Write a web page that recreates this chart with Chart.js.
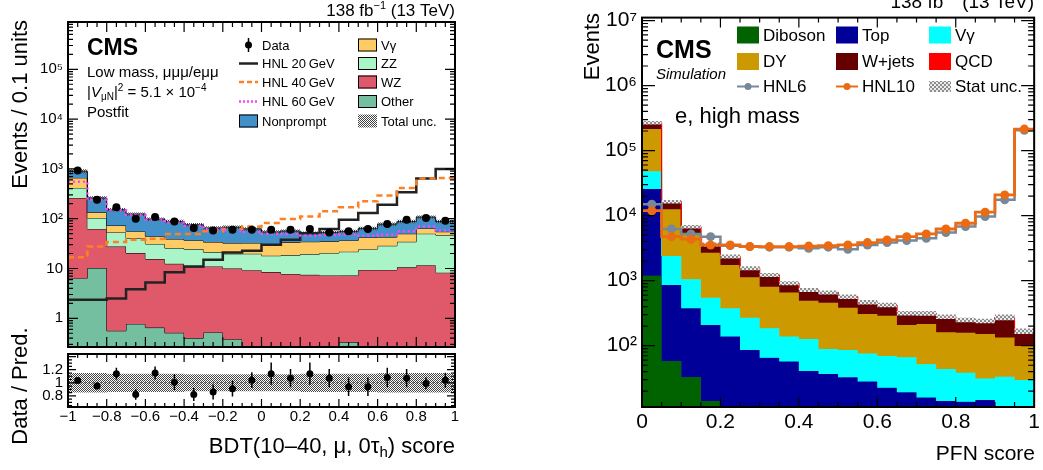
<!DOCTYPE html>
<html>
<head>
<meta charset="utf-8">
<script src="https://cdn.jsdelivr.net/npm/chart.js@4.4.0/dist/chart.umd.min.js"></script>
<style>
html, body { margin: 0; padding: 0; background: #fff; }
#wrap { position: relative; width: 1043px; height: 470px; }
#wrap canvas { position: absolute; left: 0; top: 0; }
</style>
</head>
<body>
<div id="wrap">
  <canvas id="cMain" width="1043" height="470"></canvas>
  <canvas id="cRatio" width="1043" height="470"></canvas>
  <canvas id="cPfn" width="1043" height="470"></canvas>
</div>
<script>
// ---- left: BDT(10-40, mu, 0tau_h) score, low mass, postfit ----
const bdtEdges = [-1, -0.9, -0.8, -0.7, -0.6, -0.5, -0.4, -0.3, -0.2, -0.1, 0, 0.1, 0.2, 0.3, 0.4, 0.5, 0.6, 0.7, 0.8, 0.9, 1];
const bdtOther     = [6.4, 10.2, 0.56, 0.77, 0.65, 0.51, 0.4, 0.52, 0.38, 0.15, 0.15, 0.15, 0.15, 0.15, 0.33, 0.15, 0.15, 0.15, 0.15, 0.15];
const bdtWZ        = [254, 52, 27, 19.6, 14.8, 11.9, 10.2, 10.5, 9.6, 9.1, 8.3, 7.6, 7.3, 7.1, 6.9, 9.2, 9.2, 10.4, 11.5, 8.1];
const bdtZZ        = [154, 41, 25.3, 20.4, 15.6, 13.3, 13.9, 10.3, 9.7, 10.5, 9.6, 10.8, 12, 13.2, 14.5, 15.1, 19.2, 23.8, 38.3, 38.6];
const bdtVgamma    = [245, 31, 20, 14.8, 13, 13.3, 12.1, 12.6, 12.7, 12.7, 13, 14.9, 15, 14.6, 14.9, 17.5, 14.1, 15.5, 13.8, 7.8];
const bdtNonprompt = [239, 126, 79, 68, 54, 49, 39, 31, 35, 30, 23, 23, 17, 18, 19, 22, 35, 38, 44, 33];
const bdtTotUnc    = [0.1, 0.09, 0.08, 0.08, 0.08, 0.08, 0.08, 0.08, 0.08, 0.08, 0.08, 0.08, 0.08, 0.08, 0.08, 0.08, 0.08, 0.08, 0.08, 0.08];
const bdtData      = [925, 241, 169, 100, 108, 88, 65, 58, 60, 60, 60, 60, 62, 53, 56, 62, 78, 95, 103, 91];
const bdtDataErr   = [30, 16, 13, 10, 10, 9, 8, 8, 8, 8, 8, 8, 8, 7, 7.5, 8, 9, 10, 10, 9.5];
const bdtHNL20     = [2.35, 2.35, 2.5, 3.84, 5.2, 8.4, 11, 14.9, 21, 22.7, 30, 37.8, 51, 62, 95.5, 130, 191, 339, 638, 1000];
const bdtHNL40     = [16.9, 27.7, 33.9, 37.8, 39.5, 49.2, 49.2, 55.6, 62, 70, 82, 98.5, 111, 141, 170, 223, 291, 414, 638, 659];
const bdtHNL60     = [550, 240, 148, 118, 96, 84, 72, 62, 58, 54, 50, 49, 46, 47, 48, 45.5, 47.6, 56, 70, 58];
const ratioVals    = [1.036, 0.95, 1.14, 0.82, 1.15, 1.01, 0.82, 0.86, 0.91, 1.04, 1.14, 1.07, 1.14, 1.07, 0.94, 0.94, 1.08, 1.07, 0.99, 1.04];
const ratioErr     = [0.04, 0.05, 0.09, 0.08, 0.1, 0.12, 0.1, 0.115, 0.12, 0.12, 0.17, 0.14, 0.17, 0.14, 0.14, 0.14, 0.15, 0.14, 0.09, 0.115];
const ratioBand    = [0.15, 0.15, 0.14, 0.14, 0.14, 0.14, 0.13, 0.13, 0.13, 0.13, 0.13, 0.13, 0.14, 0.14, 0.14, 0.14, 0.15, 0.15, 0.15, 0.15];
const bdtXTicks = [-1, -0.8, -0.6, -0.4, -0.2, 0, 0.2, 0.4, 0.6, 0.8, 1];
const bdtYTicks = [1, 10, 100, 1000, 1e4, 1e5];
const ratioYTicks = [0.8, 1, 1.2];

// ---- right: PFN score, e, high mass (simulation) ----
const pfnEdges = [0, 0.05, 0.1, 0.15, 0.2, 0.25, 0.3, 0.35, 0.4, 0.45, 0.5, 0.55, 0.6, 0.65, 0.7, 0.75, 0.8, 0.85, 0.9, 0.95, 1];
const pfnDiboson = [1194, 58, 33, 14.1, 0, 0, 0, 0, 0, 0, 0, 0, 0, 0, 0, 0, 0, 0, 0, 0];
const pfnTop     = [24500, 800, 342, 194, 138, 86, 65, 57, 40.7, 36.6, 32.6, 28, 22.6, 19.2, 15.9, 14.1, 13.7, 14.6, 9, 8];
const pfnVgamma  = [22300, 1542, 675, 339, 237, 184, 120, 81, 86, 52, 53, 48, 47, 47, 36, 29.7, 24.8, 16.8, 24.3, 21.6];
const pfnDY      = [166000, 10100, 4310, 2143, 1365, 855, 624, 517, 365, 368, 299, 231, 220, 142, 164, 117, 120, 120, 100, 69];
const pfnWjets   = [55000, 3900, 1400, 910, 610, 425, 416, 257, 227, 204, 182, 159, 133, 107, 99, 118, 90, 89, 141, 69];
const pfnQCD     = [0, 0, 0, 0, 0, 0, 0, 0, 0, 0, 0, 0, 0, 0, 0, 0, 0, 0, 0, 0];
const pfnStatUnc = [0.06, 0.06, 0.06, 0.07, 0.07, 0.07, 0.07, 0.07, 0.07, 0.07, 0.08, 0.08, 0.08, 0.08, 0.08, 0.08, 0.08, 0.08, 0.1, 0.1];
const pfnHNL6    = [15000, 6240, 5230, 4750, 3450, 3340, 3270, 3270, 3150, 3270, 3040, 3540, 3850, 4130, 4490, 5500, 6780, 9660, 17500, 205000];
const pfnHNL10   = [11900, 4750, 4340, 3540, 3540, 3340, 3340, 3340, 3400, 3450, 3540, 3850, 4230, 4750, 5230, 6230, 7640, 11300, 20800, 214000];
const pfnXTicks = [0, 0.2, 0.4, 0.6, 0.8, 1];
const pfnYTicks = [100, 1000, 1e4, 1e5, 1e6, 1e7];

const FAMILY = '"Liberation Sans", Arial, Helvetica, sans-serif';
const F = (size, style) => (style ? style + ' ' : '') + size + 'px ' + FAMILY;
const SUP = '\u2070\u00b9\u00b2\u00b3\u2074\u2075\u2076\u2077\u2078\u2079';
const powLabel = v => { const e = Math.round(Math.log10(v)); return e === 0 ? '1' : e === 1 ? '10' : '10' + String(e).split('').map(d => SUP[+d]).join(''); };
const numLabel = v => (v < 0 ? '\u2212' : '') + String(Math.abs(Math.round(v * 10) / 10));

function cumulate(list) { let run = list[0].map(() => 0); return list.map(a => (run = run.map((r, i) => r + a[i]))); }
function stepPts(edges, vals, floor) {
  const pts = vals.map((v, i) => ({ x: edges[i], y: Math.max(v, floor) }));
  pts.push({ x: edges[vals.length], y: Math.max(vals[vals.length - 1], floor) });
  return pts;
}
function centers(edges, vals) { return vals.map((v, i) => ({ x: (edges[i] + edges[i + 1]) / 2, y: v })); }
function errPts(edges, lo, hi) {
  const pts = [];
  lo.forEach((l, i) => { const c = (edges[i] + edges[i + 1]) / 2; pts.push({ x: c, y: l }, { x: c, y: hi[i] }, { x: c, y: null }); });
  return pts;
}
function logMinors(lo, hi) {
  const out = [];
  for (let e = Math.floor(Math.log10(lo)); e <= Math.ceil(Math.log10(hi)); e++)
    for (let k = 2; k <= 9; k++) { const v = k * Math.pow(10, e); if (v > lo && v < hi) out.push(v); }
  return out;
}
function steps(a, b, d) { const out = []; const n = Math.round((b - a) / d); for (let i = 0; i <= n; i++) out.push(+(a + i * d).toFixed(6)); return out; }
// checker hatch, cell px per square, light may be null (transparent)
function hatch(ctx, dark, light, cell) {
  const n = cell * 2;
  const tile = document.createElement('canvas'); tile.width = n; tile.height = n;
  const g = tile.getContext('2d');
  if (light) { g.fillStyle = light; g.fillRect(0, 0, n, n); }
  g.fillStyle = dark; g.fillRect(0, 0, cell, cell); g.fillRect(cell, cell, cell, cell);
  return ctx.createPattern(tile, 'repeat');
}
function stackSets(edges, cum, colors, floor, edge) {
  return cum.map((vals, i) => ({
    data: stepPts(edges, vals, floor), stepped: true, fill: i === 0 ? 'start' : '-1',
    backgroundColor: colors[i], borderColor: edge || colors[i], borderWidth: 1, pointRadius: 0, order: 100 - i,
  }));
}
function bandSets(edges, total, unc, pattern, floor) {
  return [
    { data: stepPts(edges, total.map((v, i) => v * (1 + unc[i])), floor), stepped: true, fill: '+1', backgroundColor: pattern, borderWidth: 0, pointRadius: 0, order: 40 },
    { data: stepPts(edges, total.map((v, i) => v * (1 - unc[i])), floor), stepped: true, fill: false, borderWidth: 0, pointRadius: 0, order: 41 },
  ];
}

function drawRich(ctx, parts, align) {
  const widths = parts.map(p => { ctx.font = p[1]; return ctx.measureText(p[0]).width; });
  const total = widths.reduce((s, w) => s + w, 0);
  let cx = align === 'right' ? -total : align === 'center' ? -total / 2 : 0;
  parts.forEach((p, i) => { ctx.font = p[1]; ctx.fillText(p[0], cx, p[2] || 0); cx += widths[i]; });
}
function notesPlugin(items) {
  return {
    id: 'notes',
    afterDraw(chart) {
      const ctx = chart.ctx;
      for (const it of items) {
        ctx.save(); ctx.fillStyle = '#000'; ctx.translate(it.at[0], it.at[1]);
        if (it.rotate) { ctx.rotate(-Math.PI / 2); ctx.textBaseline = 'middle'; } else ctx.textBaseline = 'alphabetic';
        drawRich(ctx, it.parts, it.align || 'left');
        ctx.restore();
      }
    },
  };
}
function keyPlugin(items, opt) {
  return {
    id: 'histKey',
    afterDatasetsDraw(chart) {
      const ctx = chart.ctx;
      ctx.save(); ctx.textBaseline = 'middle';
      for (const it of items) {
        const x = it.x, y = it.y, w = opt.w, h = it.h || opt.h;
        if (it.kind === 'box') {
          ctx.fillStyle = it.fill; ctx.fillRect(x, y - h / 2, w, h);
          if (opt.edge && !it.noEdge) { ctx.strokeStyle = opt.edge; ctx.lineWidth = 1; ctx.strokeRect(x + 0.5, y - h / 2 + 0.5, w - 1, h - 1); }
        } else if (it.kind === 'line') {
          ctx.strokeStyle = it.color; ctx.lineWidth = it.lw; ctx.setLineDash(it.dash || []);
          ctx.beginPath(); ctx.moveTo(x, y); ctx.lineTo(x + w, y); ctx.stroke(); ctx.setLineDash([]);
          if (it.dot) { ctx.fillStyle = it.color; ctx.beginPath(); ctx.arc(x + w / 2, y, it.dot, 0, Math.PI * 2); ctx.fill(); }
        } else if (it.kind === 'data') {
          ctx.strokeStyle = '#000'; ctx.lineWidth = 1.5;
          ctx.beginPath(); ctx.moveTo(x + w / 2, y - 7); ctx.lineTo(x + w / 2, y + 7); ctx.stroke();
          ctx.fillStyle = '#000'; ctx.beginPath(); ctx.arc(x + w / 2, y, 3.5, 0, Math.PI * 2); ctx.fill();
        }
        ctx.fillStyle = '#000'; ctx.font = opt.font;
        ctx.fillText(it.label, x + w + opt.gap, y + 1);
      }
      ctx.restore();
    },
  };
}
function framePlugin(t) {
  return {
    id: 'rootFrame',
    afterDraw(chart) {
      const { ctx, chartArea: a, scales } = chart;
      const xs = scales.x, ys = scales.y;
      ctx.save(); ctx.strokeStyle = '#000'; ctx.lineWidth = 1.2; ctx.beginPath();
      const yTick = (v, len) => { const p = ys.getPixelForValue(v); if (p < a.top || p > a.bottom) return; ctx.moveTo(a.left, p); ctx.lineTo(a.left + len, p); ctx.moveTo(a.right, p); ctx.lineTo(a.right - len, p); };
      const xTick = (v, len) => { const p = xs.getPixelForValue(v); if (p < a.left || p > a.right) return; ctx.moveTo(p, a.bottom); ctx.lineTo(p, a.bottom - len); ctx.moveTo(p, a.top); ctx.lineTo(p, a.top + len); };
      t.yMajor.forEach(v => yTick(v, t.yLen[0])); t.yMinor.forEach(v => yTick(v, t.yLen[1]));
      t.xMajor.forEach(v => xTick(v, t.xLen[0])); t.xMinor.forEach(v => xTick(v, t.xLen[1]));
      ctx.stroke();
      ctx.lineWidth = 2; ctx.strokeRect(a.left, a.top, a.right - a.left, a.bottom - a.top);
      ctx.restore();
    },
  };
}
function yLog(min, max, ticks, width, size) {
  return {
    type: 'logarithmic', min, max,
    afterFit: s => { s.width = width; },
    afterBuildTicks: s => { s.ticks = ticks.map(v => ({ value: v })); },
    grid: { display: false, drawTicks: false }, border: { display: false },
    ticks: { padding: 5, color: '#000', font: { family: FAMILY, size }, callback: v => powLabel(v) },
  };
}
function xLin(min, max, ticks, size, pad) {
  return {
    type: 'linear', min, max,
    afterFit: s => { s.height = 63; },
    afterBuildTicks: s => { s.ticks = ticks.map(v => ({ value: v })); },
    grid: { display: false, drawTicks: false }, border: { display: false },
    ticks: { padding: pad, color: '#000', autoSkip: false, maxRotation: 0, font: { family: FAMILY, size }, callback: v => numLabel(v) },
  };
}
const base = { responsive: false, animation: false, devicePixelRatio: 1, events: [] };
const noPlug = { legend: { display: false }, tooltip: { enabled: false } };

// ---------- left main ----------
const cMain = document.getElementById('cMain');
const greyHatch = hatch(cMain.getContext('2d'), '#444444', null, 1);
const bdtColors = ['#73bf9f', '#e0596b', '#aaf5c8', '#ffcb64', '#4190ca'];
const bdtCum = cumulate([bdtOther, bdtWZ, bdtZZ, bdtVgamma, bdtNonprompt]);
const bdtTotal = bdtCum[bdtCum.length - 1];
const mainSets = [
  ...stackSets(bdtEdges, bdtCum, bdtColors, 0.01, '#000'),
  ...bandSets(bdtEdges, bdtTotal, bdtTotUnc, greyHatch, 0.01),
  { data: stepPts(bdtEdges, bdtHNL20, 0.01), stepped: true, fill: false, borderColor: '#222', borderWidth: 2.5, pointRadius: 0, order: 12 },
  { data: stepPts(bdtEdges, bdtHNL40, 0.01), stepped: true, fill: false, borderColor: '#ff8022', borderWidth: 2.5, borderDash: [6, 4], pointRadius: 0, order: 11 },
  { data: stepPts(bdtEdges, bdtHNL60, 0.01), stepped: true, fill: false, borderColor: '#ff44ff', borderWidth: 2.5, borderDash: [2, 3], pointRadius: 0, order: 10 },
  { data: errPts(bdtEdges, bdtData.map((v, i) => v - bdtDataErr[i]), bdtData.map((v, i) => v + bdtDataErr[i])), borderColor: '#000', borderWidth: 1.5, pointRadius: 0, spanGaps: false, order: 2 },
  { data: centers(bdtEdges, bdtData), showLine: false, pointRadius: 4, pointBackgroundColor: '#000', pointBorderWidth: 0, order: 1 },
];
const leftKey = [
  { kind: 'data', x: 239, y: 45, label: 'Data' },
  { kind: 'line', x: 239, y: 63.5, color: '#222', lw: 2.5, label: 'HNL 20\u2009GeV' },
  { kind: 'line', x: 239, y: 82, color: '#ff8022', lw: 2.5, dash: [5, 3], label: 'HNL 40\u2009GeV' },
  { kind: 'line', x: 239, y: 101.5, color: '#ff44ff', lw: 2.5, dash: [2, 2], label: 'HNL 60\u2009GeV' },
  { kind: 'box', x: 239, y: 121, fill: bdtColors[4], label: 'Nonprompt' },
  { kind: 'box', x: 358, y: 45, fill: bdtColors[3], label: 'V\u03b3' },
  { kind: 'box', x: 358, y: 63.5, fill: bdtColors[2], label: 'ZZ' },
  { kind: 'box', x: 358, y: 82, fill: bdtColors[1], label: 'WZ' },
  { kind: 'box', x: 358, y: 101.5, fill: bdtColors[0], label: 'Other' },
  { kind: 'box', x: 358, y: 121, fill: greyHatch, noEdge: true, label: 'Total unc.' },
];
const leftNotes = [
  { at: [455, 16], align: 'right', parts: [['138 fb', F(17)], ['\u22121', F(11), -7], [' (13 TeV)', F(17)]] },
  { at: [87, 55], parts: [['CMS', F(23, 'bold')]] },
  { at: [87, 77], parts: [['Low mass, \u03bc\u03bc\u03bc/e\u03bc\u03bc', F(15)]] },
  { at: [87, 97], parts: [['|', F(15)], ['V', F(15, 'italic')], ['\u03bcN', F(10), 3], ['|', F(15)], ['2', F(10), -6], [' = 5.1 \u00d7 10', F(15)], ['\u22124', F(10), -6]] },
  { at: [87, 117], parts: [['Postfit', F(15)]] },
  { at: [21, 20], rotate: true, align: 'right', parts: [['Events / 0.1 units', F(22)]] },
  { at: [21, 386], rotate: true, align: 'center', parts: [['Data / Pred.', F(22)]] },
  { at: [455, 453], align: 'right', parts: [['BDT(10\u201340, \u03bc, 0\u03c4', F(22)], ['h', F(15), 4], [') score', F(22)]] },
];
new Chart(cMain, {
  type: 'line',
  data: { datasets: mainSets },
  options: {
    ...base,
    layout: { padding: { left: 0, top: 22, right: 588, bottom: 123 } },
    plugins: noPlug,
    scales: { x: { type: 'linear', min: -1, max: 1, display: false }, y: yLog(0.265, 8.9e5, bdtYTicks, 68, 15) },
  },
  plugins: [
    keyPlugin(leftKey, { font: F(13), w: 19, h: 13, gap: 4, edge: '#000' }),
    notesPlugin(leftNotes),
    framePlugin({ xMajor: bdtXTicks, xMinor: steps(-1, 1, 0.05), yMajor: bdtYTicks, yMinor: logMinors(0.265, 8.9e5), xLen: [10, 5], yLen: [10, 5] }),
  ],
});

// ---------- left ratio ----------
const ratioSets = [
  ...bandSets(bdtEdges, ratioVals.map(() => 1), ratioBand, greyHatch, -10),
  { data: [{ x: -1, y: 1 }, { x: 1, y: 1 }], borderColor: '#555', borderWidth: 1, borderDash: [2, 2], pointRadius: 0, order: 30 },
  { data: errPts(bdtEdges, ratioVals.map((v, i) => v - ratioErr[i]), ratioVals.map((v, i) => v + ratioErr[i])), borderColor: '#000', borderWidth: 1.5, pointRadius: 0, spanGaps: false, order: 2 },
  { data: centers(bdtEdges, ratioVals), showLine: false, pointRadius: 3.5, pointBackgroundColor: '#000', pointBorderWidth: 0, order: 1 },
];
new Chart(document.getElementById('cRatio'), {
  type: 'line',
  data: { datasets: ratioSets },
  options: {
    ...base,
    layout: { padding: { left: 0, top: 354, right: 588, bottom: 0 } },
    plugins: noPlug,
    scales: {
      x: xLin(-1, 1, bdtXTicks, 15, 1),
      y: {
        type: 'linear', min: 0.63, max: 1.44,
        afterFit: s => { s.width = 68; },
        afterBuildTicks: s => { s.ticks = ratioYTicks.map(v => ({ value: v })); },
        grid: { display: false, drawTicks: false }, border: { display: false },
        ticks: { padding: 5, color: '#000', font: { family: FAMILY, size: 15 }, callback: v => numLabel(v) },
      },
    },
  },
  plugins: [framePlugin({ xMajor: bdtXTicks, xMinor: steps(-1, 1, 0.05), yMajor: [0.8, 1, 1.2, 1.4], yMinor: steps(0.65, 1.4, 0.05), xLen: [8, 4], yLen: [8, 4] })],
});

// ---------- right: PFN score ----------
const cPfn = document.getElementById('cPfn');
const pfnHatch = hatch(cPfn.getContext('2d'), '#8c8c8c', '#ececec', 2);
const pfnColors = ['#006300', '#000099', '#00ffff', '#cc9900', '#660000', '#ff0000'];
const pfnCum = cumulate([pfnDiboson, pfnTop, pfnVgamma, pfnDY, pfnWjets, pfnQCD]);
const pfnTotal = pfnCum[pfnCum.length - 1];
const pfnSets = [
  ...stackSets(pfnEdges, pfnCum, pfnColors, 1),
  ...bandSets(pfnEdges, pfnTotal, pfnStatUnc, pfnHatch, 1),
  { data: stepPts(pfnEdges, pfnHNL6, 1), stepped: true, fill: false, borderColor: '#778899', borderWidth: 2.5, pointRadius: 0, order: 12 },
  { data: centers(pfnEdges, pfnHNL6), showLine: false, pointRadius: 4.5, pointBackgroundColor: '#778899', pointBorderWidth: 0, order: 11 },
  { data: stepPts(pfnEdges, pfnHNL10, 1), stepped: true, fill: false, borderColor: '#ec6a12', borderWidth: 2.8, pointRadius: 0, order: 10 },
  { data: centers(pfnEdges, pfnHNL10), showLine: false, pointRadius: 4.5, pointBackgroundColor: '#ec6a12', pointBorderWidth: 0, order: 9 },
];
const rightKey = [
  { kind: 'box', x: 737, y: 35, fill: pfnColors[0], label: 'Diboson' },
  { kind: 'box', x: 836, y: 35, fill: pfnColors[1], label: 'Top' },
  { kind: 'box', x: 929, y: 35, fill: pfnColors[2], label: 'V\u03b3' },
  { kind: 'box', x: 737, y: 61.5, fill: pfnColors[3], label: 'DY' },
  { kind: 'box', x: 836, y: 61.5, fill: pfnColors[4], label: 'W+jets' },
  { kind: 'box', x: 929, y: 61.5, fill: pfnColors[5], label: 'QCD' },
  { kind: 'line', x: 737, y: 86.5, color: '#778899', lw: 2, dot: 3.5, label: 'HNL6' },
  { kind: 'line', x: 836, y: 86.5, color: '#ec6a12', lw: 2, dot: 3.5, label: 'HNL10' },
  { kind: 'box', x: 929, y: 86.5, h: 11, fill: pfnHatch, label: 'Stat unc.' },
];
const rightNotes = [
  { at: [1034, 8], align: 'right', parts: [['138 fb', F(19)], ['\u22121', F(12), -8], [' (13 TeV)', F(19)]] },
  { at: [656, 58], parts: [['CMS', F(25, 'bold')]] },
  { at: [656, 79], parts: [['Simulation', F(15, 'italic')]] },
  { at: [675, 123], parts: [['e, high mass', F(22)]] },
  { at: [593, 13], rotate: true, align: 'right', parts: [['Events', F(22)]] },
  { at: [1035, 460], align: 'right', parts: [['PFN score', F(21)]] },
];
new Chart(cPfn, {
  type: 'line',
  data: { datasets: pfnSets },
  options: {
    ...base,
    layout: { padding: { left: 560, top: 17, right: 8, bottom: 0 } },
    plugins: noPlug,
    scales: { x: xLin(0, 1, pfnXTicks, 21, 3), y: yLog(11.4, 1.11e7, pfnYTicks, 82, 21) },
  },
  plugins: [
    keyPlugin(rightKey, { font: F(17), w: 22, h: 17, gap: 4 }),
    notesPlugin(rightNotes),
    framePlugin({ xMajor: pfnXTicks, xMinor: steps(0, 1, 0.05), yMajor: pfnYTicks, yMinor: logMinors(11.4, 1.11e7), xLen: [10, 5], yLen: [13, 6] }),
  ],
});
</script>
</body>
</html>
